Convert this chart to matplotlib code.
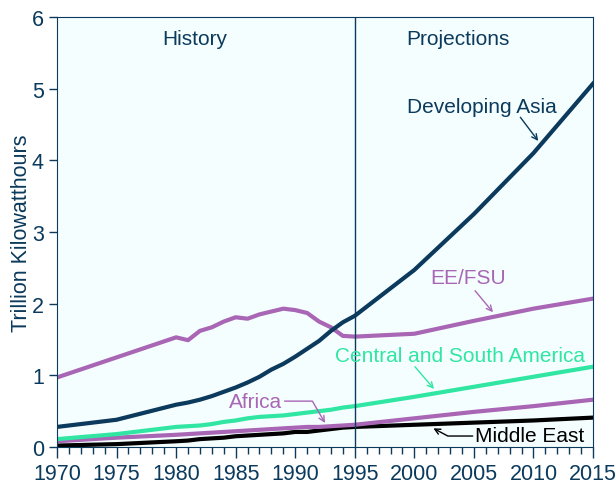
import numpy as np
import matplotlib.pyplot as plt

plt.rcParams['font.family'] = ['Liberation Sans', 'DejaVu Sans']

years = [1970, 1975, 1980, 1981, 1982, 1983, 1984, 1985, 1986, 1987, 1988,
         1989, 1990, 1991, 1992, 1993, 1994, 1995, 2000, 2005, 2010, 2015]

dev_asia = [0.28, 0.38, 0.59, 0.62, 0.66, 0.71, 0.77, 0.83, 0.90, 0.98, 1.08,
            1.16, 1.26, 1.37, 1.48, 1.62, 1.74, 1.83, 2.47, 3.25, 4.10, 5.07]
ee_fsu = [0.97, 1.25, 1.53, 1.49, 1.62, 1.67, 1.75, 1.81, 1.79, 1.85, 1.89,
          1.93, 1.91, 1.87, 1.75, 1.67, 1.55, 1.54, 1.58, 1.76, 1.93, 2.07]
csa = [0.11, 0.18, 0.28, 0.29, 0.30, 0.32, 0.35, 0.37, 0.40, 0.42, 0.43,
       0.44, 0.46, 0.48, 0.50, 0.52, 0.55, 0.57, 0.70, 0.84, 0.98, 1.12]
africa = [0.08, 0.13, 0.17, 0.18, 0.19, 0.20, 0.21, 0.22, 0.23, 0.24, 0.25,
          0.26, 0.27, 0.28, 0.28, 0.29, 0.30, 0.31, 0.40, 0.49, 0.57, 0.66]
mideast = [0.02, 0.04, 0.08, 0.09, 0.11, 0.12, 0.13, 0.15, 0.16, 0.17, 0.18,
           0.19, 0.21, 0.21, 0.23, 0.25, 0.27, 0.28, 0.31, 0.34, 0.37, 0.41]

navy = '#0B3A5C'
purple = '#A866B5'
green = '#30E6A2'

fig = plt.figure(figsize=(6.16, 4.85), dpi=100)
ax = fig.add_axes([0.0925, 0.0763, 0.8702, 0.8867])
ax.set_facecolor('#F5FEFF')

ax.plot(years, mideast, color='black', lw=3)
ax.plot(years, africa, color=purple, lw=3)
ax.plot(years, csa, color=green, lw=3)
ax.plot(years, ee_fsu, color=purple, lw=3)
ax.plot(years, dev_asia, color=navy, lw=3)

ax.axvline(1995, color=navy, lw=1)

ax.set_xlim(1970, 2015)
ax.set_ylim(0, 6)
ax.set_xticks(range(1970, 2016, 5))
ax.set_xticks(range(1970, 2016, 1), minor=True)
ax.set_yticks(range(0, 7))
ax.tick_params(axis='both', colors=navy, labelsize=15.5, direction='out', length=8, width=1)
ax.tick_params(axis='x', which='minor', colors=navy, direction='out', length=5, width=1)
ax.tick_params(axis='y', length=6)
for s in ax.spines.values():
    s.set_color(navy)
ax.set_ylabel('Trillion Kilowatthours', color=navy, fontsize=15.5, labelpad=0)

ax.text(1981.6, 5.7, 'History', color=navy, fontsize=15, ha='center', va='center')
ax.text(2003.7, 5.7, 'Projections', color=navy, fontsize=15, ha='center', va='center')

# series labels
ax.text(2005.7, 4.75, 'Developing Asia', color=navy, fontsize=15, ha='center', va='center')
ax.text(2004.5, 2.37, 'EE/FSU', color=purple, fontsize=15, ha='center', va='center')
ax.text(2003.8, 1.27, 'Central and South America', color=green, fontsize=15,
        ha='center', va='center')
ax.text(1986.7, 0.64, 'Africa', color=purple, fontsize=15, ha='center', va='center')
ax.text(2009.7, 0.16, 'Middle East', color='black', fontsize=15, ha='center', va='center')

def pointer(xy, start, color, conn='arc3'):
    ax.annotate('', xy=xy, xytext=start,
                arrowprops=dict(arrowstyle='->', lw=1, color=color,
                                shrinkA=0, shrinkB=0, connectionstyle=conn))

pointer((2010.4, 4.27), (2008.9, 4.60), navy)
pointer((2006.6, 1.88), (2005.1, 2.18), purple)
pointer((2001.65, 0.81), (2000.05, 1.12), green)
pointer((1992.5, 0.335), (1989.1, 0.64), purple, 'angle,angleA=0,angleB=120,rad=0')
pointer((2001.6, 0.26), (2004.9, 0.153), 'black', 'angle,angleA=0,angleB=-28,rad=0')

fig.savefig('out.png', dpi=100)
